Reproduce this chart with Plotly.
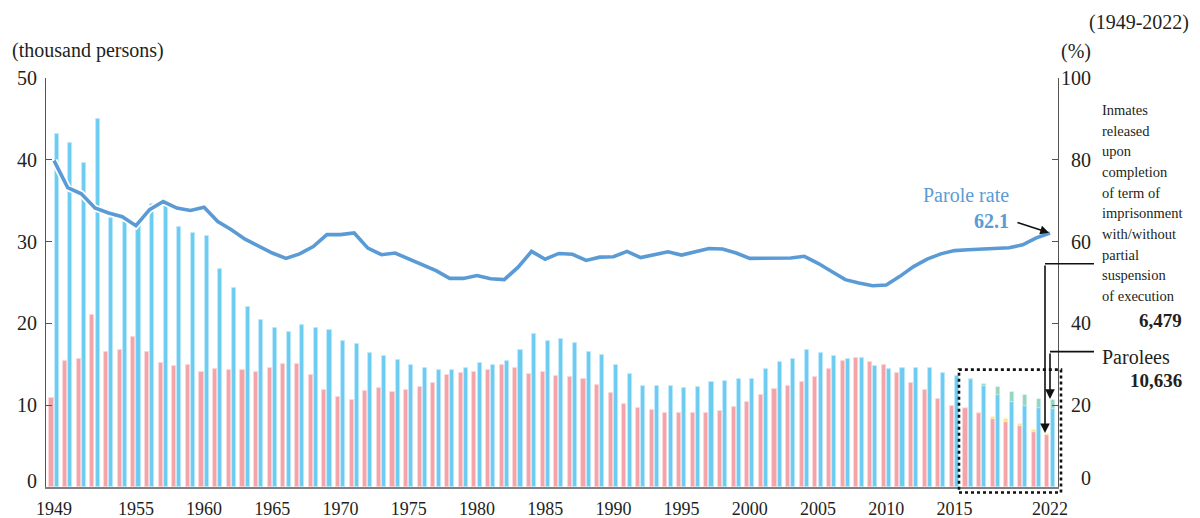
import plotly.graph_objects as go

# ---------------- data (thousand persons / %) ----------------
years = list(range(1949, 2023))

completion = [10.9,
    15.4, 15.6, 21.0, 16.5, 16.8, 18.3, 16.5, 15.1, 14.8, 14.9,
    14.1, 14.4, 14.3, 14.3, 14.1, 14.55, 15.0, 15.0, 13.7, 11.8,
    11.0, 10.6, 11.7, 12.1, 11.6, 11.8, 12.2, 12.7, 13.65, 13.9,
    14.1, 14.35, 14.9, 14.5, 13.8, 14.1, 13.6, 13.4, 13.25, 12.5,
    11.45, 10.1, 9.65, 9.45, 9.1, 9.1, 9.0, 9.1, 9.3, 9.8,
    10.35, 11.2, 11.95, 12.3, 12.85, 13.5, 14.4, 15.4, 15.8, 15.25,
    14.9, 13.9, 12.7, 11.85, 10.7, 9.9, 9.6, 9.05, 8.3, 8.0,
    7.4, 6.7, 6.3]

parolees = [43.2,
    42.1, 39.6, 45.0, 32.9, 32.4, 31.9, 34.6, 34.5, 31.8, 31.1,
    30.7, 26.6, 24.3, 22.0, 20.4, 19.4, 18.9, 19.8, 19.4, 19.2,
    17.8, 17.5, 16.4, 16.0, 15.5, 14.9, 14.6, 14.3, 14.3, 14.55,
    15.1, 14.95, 15.4, 16.8, 18.7, 17.8, 18.1, 17.6, 16.5, 16.1,
    14.9, 13.8, 12.3, 12.4, 12.4, 12.1, 12.2, 12.8, 12.9, 13.2,
    13.2, 14.4, 15.3, 15.7, 16.7, 16.4, 16.0, 15.7, 15.8, 14.75,
    14.4, 14.55, 14.6, 14.55, 13.95, 13.6, 13.2, 12.4, 11.3, 10.4,
    9.9, 9.7, 9.5]

partial_years = [2016, 2017, 2018, 2019, 2020, 2021, 2022]
completion_partial = [0.02, 0.05, 0.25, 0.3, 0.35, 0.3, 0.18]
parolees_partial = [0.05, 0.2, 0.9, 1.2, 1.3, 1.1, 1.14]

parole_rate = [79.8,
    73.2, 71.7, 68.2, 67.0, 66.1, 63.9, 67.8, 69.8, 68.2, 67.6,
    68.4, 64.9, 62.9, 60.6, 59.0, 57.2, 55.9, 57.0, 58.8, 61.7,
    61.7, 62.1, 58.4, 56.8, 57.2, 55.7, 54.2, 52.9, 51.0, 51.0,
    51.7, 50.9, 50.7, 53.7, 57.6, 55.7, 57.1, 56.9, 55.4, 56.2,
    56.3, 57.6, 56.1, 56.9, 57.5, 56.7, 57.6, 58.3, 58.2, 57.2,
    55.9, 56.0, 56.0, 56.0, 56.4, 54.7, 52.7, 50.7, 49.9, 49.2,
    49.4, 51.5, 53.9, 55.7, 57.0, 57.8, 58.0, 58.2, 58.5, 58.5,
    59.2, 60.9, 62.1]

x_tick_years = [1949, 1955, 1960, 1965, 1970, 1975, 1980, 1985, 1990,
                1995, 2000, 2005, 2010, 2015, 2022]
left_ticks = [0, 10, 20, 30, 40, 50]
right_ticks = [0, 20, 40, 60, 80, 100]

completion_label = ["Inmates", "released", "upon", "completion", "of term of",
                    "imprisonment", "with/without", "partial", "suspension",
                    "of execution"]
completion_last = "6,479"
parolees_last = "10,636"
rate_last = "62.1"

# ---------------- styling ----------------
FONT = "Liberation Serif"
TXT = "#231F20"
PINK, PINK_E = "#F4A3A8", "#FBD3D5"
BLUE, BLUE_E = "#6CCBF1", "#BFE8FA"
YELLOW, GREEN = "#FFE17A", "#93D4C3"
LINE = "#5B9BD5"

# page has an 8px body margin; figure is sized/placed to compensate
PAD = 8
W, H = 1192, 510
L, T = 46 - PAD, 78 - PAD
R = W - (1058 - PAD)
B = H - (487.5 - PAD)
PW, PH = W - L - R, H - T - B


def px(X):
    return (X - PAD - L) / PW


def py(Y):
    return (H - B - (Y - PAD)) / PH


BW = 0.30
OFF_P, OFF_B = -0.34, 0.04

idx = [years.index(y) for y in partial_years]

fig = go.Figure()
fig.add_trace(go.Bar(x=years, y=completion, width=BW, offset=OFF_P,
                     marker=dict(color=PINK, line=dict(color=PINK_E, width=0.8)),
                     name="completion", yaxis="y"))
fig.add_trace(go.Bar(x=partial_years, y=completion_partial,
                     base=[completion[i] for i in idx], width=BW, offset=OFF_P,
                     marker=dict(color=YELLOW, line=dict(color="#FFF3C4", width=0.6)),
                     name="completion partial", yaxis="y"))
fig.add_trace(go.Bar(x=years, y=parolees, width=BW, offset=OFF_B,
                     marker=dict(color=BLUE, line=dict(color=BLUE_E, width=0.8)),
                     name="parolees", yaxis="y"))
fig.add_trace(go.Bar(x=partial_years, y=parolees_partial,
                     base=[parolees[i] for i in idx], width=BW, offset=OFF_B,
                     marker=dict(color=GREEN, line=dict(color="#D8F0EA", width=0.6)),
                     name="parolees partial", yaxis="y"))
# parole-rate line with white halo
fig.add_trace(go.Scatter(x=years, y=parole_rate, mode="lines",
                         line=dict(color="white", width=7), yaxis="y2",
                         hoverinfo="skip"))
fig.add_trace(go.Scatter(x=years, y=parole_rate, mode="lines",
                         line=dict(color=LINE, width=3.6), yaxis="y2",
                         name="Parole rate"))

ann = []
# left tick labels
for v in left_ticks:
    ann.append(dict(x=px(39), xref="paper", y=v, yref="y", text=str(v),
                    showarrow=False, xanchor="right", yanchor="middle",
                    yshift=6 if v == 0 else 0,
                    font=dict(family=FONT, size=20, color=TXT)))
# right tick labels (right-aligned)
for v in right_ticks:
    ann.append(dict(x=px(1093), xref="paper", y=v, yref="y2", text=str(v),
                    showarrow=False, xanchor="right", yanchor="middle",
                    yshift=9 if v == 0 else 0,
                    font=dict(family=FONT, size=20, color=TXT)))

ann.append(dict(x=px(10), xref="paper", y=py(50), yref="paper",
                text="(thousand persons)", showarrow=False, xanchor="left",
                yanchor="middle", font=dict(family=FONT, size=20, color=TXT)))
ann.append(dict(x=px(1190), xref="paper", y=py(22), yref="paper",
                text="(1949-2022)", showarrow=False, xanchor="right",
                yanchor="middle", borderpad=0,
                font=dict(family=FONT, size=20, color=TXT)))
ann.append(dict(x=px(1076), xref="paper", y=py(51), yref="paper",
                text="(%)", showarrow=False, xanchor="center",
                yanchor="middle", font=dict(family=FONT, size=20, color=TXT)))

# right-side multi-line label
for k, line in enumerate(completion_label):
    ann.append(dict(x=px(1100), xref="paper", y=py(110 + 20.7 * k), yref="paper",
                    text=line, showarrow=False, xanchor="left", yanchor="middle",
                    font=dict(family=FONT, size=14.5, color=TXT)))
ann.append(dict(x=px(1184), xref="paper", y=py(321), yref="paper",
                text="<b>" + completion_last + "</b>", showarrow=False,
                xanchor="right", yanchor="middle",
                font=dict(family=FONT, size=19, color=TXT)))
ann.append(dict(x=px(1100), xref="paper", y=py(357), yref="paper",
                text="Parolees", showarrow=False, xanchor="left",
                yanchor="middle", font=dict(family=FONT, size=20, color=TXT)))
ann.append(dict(x=px(1184), xref="paper", y=py(381), yref="paper",
                text="<b>" + parolees_last + "</b>", showarrow=False,
                xanchor="right", yanchor="middle",
                font=dict(family=FONT, size=19, color=TXT)))
# parole rate label
ann.append(dict(x=px(1011), xref="paper", y=py(195), yref="paper",
                text="Parole rate", showarrow=False, xanchor="right",
                yanchor="middle", font=dict(family=FONT, size=20, color=LINE)))
ann.append(dict(x=px(1011), xref="paper", y=py(221), yref="paper",
                text="<b>" + rate_last + "</b>", showarrow=False, xanchor="right",
                yanchor="middle", font=dict(family=FONT, size=20, color=LINE)))
# arrow to end of parole rate line
ann.append(dict(x=years[-1], xref="x", y=parole_rate[-1], yref="y2", text="",
                showarrow=True, ax=-34, ay=-11, arrowhead=2, arrowsize=1.1,
                arrowwidth=1.6, arrowcolor="#111", standoff=1))
# arrows down to 2022 bars
ann.append(dict(x=px(1045), xref="paper",
                y=completion[-1] + completion_partial[-1], yref="y", text="",
                showarrow=True, ax=0, ay=-(py(264) - py(434)) * PH,
                arrowhead=2, arrowsize=1.2, arrowwidth=1.6, arrowcolor="#111",
                standoff=1))
ann.append(dict(x=px(1050), xref="paper",
                y=parolees[-1] + parolees_partial[-1], yref="y", text="",
                showarrow=True, ax=0, ay=-(py(352) - py(400)) * PH,
                arrowhead=2, arrowsize=1.2, arrowwidth=1.6, arrowcolor="#111",
                standoff=1))

shapes = [
    dict(type="line", xref="paper", yref="paper", x0=px(1045), x1=px(1094),
         y0=py(264), y1=py(264), line=dict(color="#111", width=1.6)),
    dict(type="line", xref="paper", yref="paper", x0=px(1050), x1=px(1094),
         y0=py(352), y1=py(352), line=dict(color="#111", width=1.6)),
    dict(type="rect", xref="paper", yref="paper", x0=px(959), x1=px(1061),
         y0=py(493), y1=py(370), line=dict(color="#111", width=2.6, dash="dot")),
]

fig.update_layout(
    width=W, height=H,
    margin=dict(l=L, r=R, t=T, b=B, autoexpand=False),
    paper_bgcolor="white", plot_bgcolor="white",
    barmode="overlay", bargap=0, showlegend=False,
    font=dict(family=FONT, color=TXT),
    xaxis=dict(range=[1948.41, 2022.59], tickmode="array", tickvals=x_tick_years,
               ticktext=[str(v) for v in x_tick_years], ticks="",
               tickfont=dict(family=FONT, size=18, color=TXT),
               showline=True, linecolor="#808080", linewidth=2.2,
               showgrid=False, zeroline=False, ticklabelstandoff=4,
               automargin=False),
    yaxis=dict(range=[0, 50], tickmode="array", tickvals=left_ticks,
               showticklabels=False, ticks="inside", ticklen=6,
               tickcolor="#555", showline=True, linecolor="#555", linewidth=1,
               showgrid=False, zeroline=False, automargin=False),
    yaxis2=dict(range=[0, 100], overlaying="y", side="right", tickmode="array",
                tickvals=right_ticks, showticklabels=False, ticks="inside",
                ticklen=6, tickcolor="#555", showline=True, linecolor="#555",
                linewidth=1, showgrid=False, zeroline=False, automargin=False),
    annotations=ann, shapes=shapes,
)

fig.write_html("out.html")
